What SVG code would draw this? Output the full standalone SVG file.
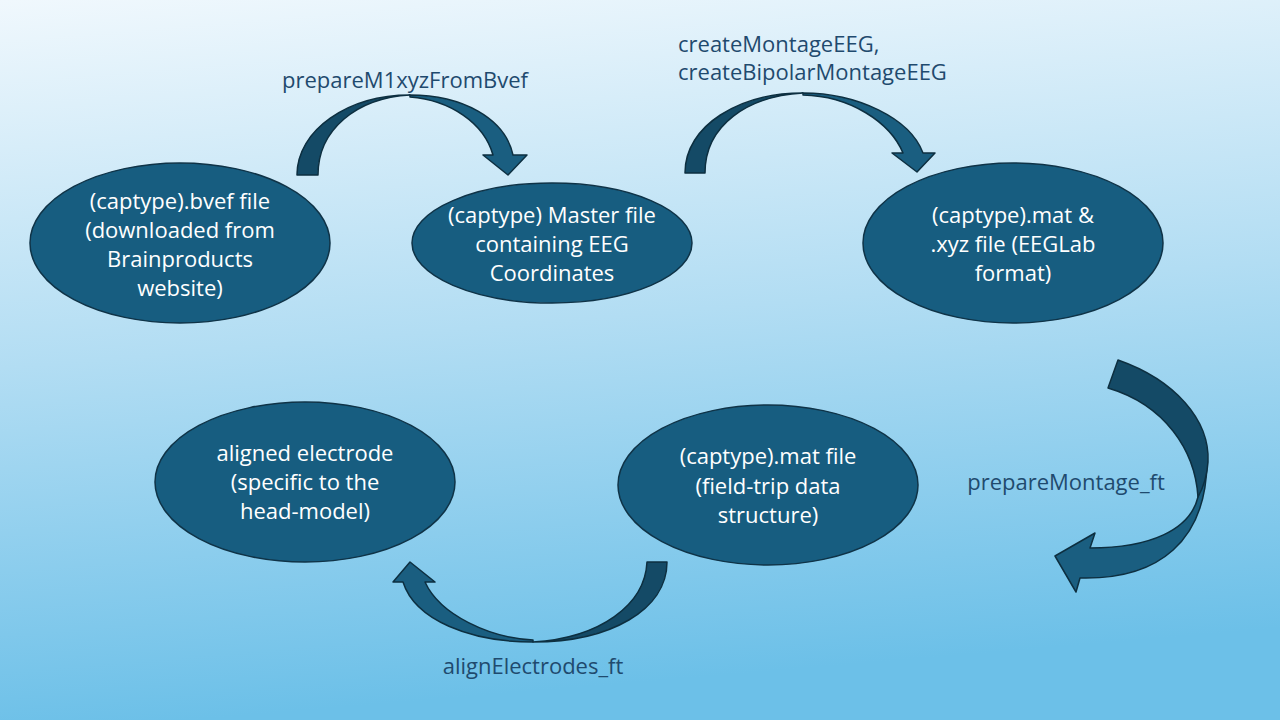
<svg xmlns="http://www.w3.org/2000/svg" width="1280" height="720" viewBox="0 0 1280 720">
<defs>
<linearGradient id="bg" x1="0" y1="0" x2="0.15" y2="1">
<stop offset="0" stop-color="#f0f8fd"/>
<stop offset="0.5" stop-color="#b2ddf3"/>
<stop offset="1" stop-color="#6cc0e8"/>
</linearGradient>
<style>
.node{fill:#175d80;stroke:#0f3347;stroke-width:1.5}
.nt{font-family:"Open Sans","Liberation Sans",sans-serif;font-size:22px;fill:#ffffff;text-anchor:middle}
.lbl{font-family:"Open Sans","Liberation Sans",sans-serif;font-size:22px;fill:#1f4a6e}
.arL{fill:#1a5e80;stroke:#0d2f40;stroke-width:1.5;stroke-linejoin:round}
.arD{fill:#144a66;stroke:#0d2f40;stroke-width:1.5;stroke-linejoin:round}
</style>
</defs>
<rect width="1280" height="720" fill="url(#bg)"/>

<g id="connectors">
<g id="arrow1">
<path class="arL" d="M410,95 C462,95 505,118 513,155 L527,155 L508,175 L483,155 L493,155 C484,123 450,100 410,97 Z"/>
<path class="arD" d="M297,175 C297,130 348,95 410,95 C356,98 318,130 318,175 Z"/>
</g>
<g id="arrow2">
<path class="arL" d="M803,93 C857,93 910,118 923,153 L935,153 L917,172 L892,153 L903,153 C890,122 850,96 803,95 Z"/>
<path class="arD" d="M685,173 C685,125 740,93 803,93 C748,96 705,125 705,173 Z"/>
</g>
<g id="arrow3">
<path class="arL" d="M1207,462 C1206,540 1160,580 1080,578 L1076,592 L1055,556 L1095,533 L1090,548 C1150,548 1190,530 1198,497 Z"/>
<path class="arD" d="M1118,360 C1175,380 1210,420 1208,462 C1207,478 1203,488 1198,497 C1195,450 1165,405 1108,388 Z"/>
</g>
<g id="arrow4">
<path class="arL" d="M533,642 C470,642 415,620 403,582 L393,582 L410,562 L435,582 L425,582 C440,615 490,638 533,640 Z"/>
<path class="arD" d="M667,562 C667,610 610,642 533,642 C600,638 645,605 647,562 Z"/>
</g>
</g>

<g id="node1">
<ellipse class="node" cx="180" cy="243" rx="150" ry="80"/>
<text class="nt" x="180" y="209">(captype).bvef file</text>
<text class="nt" x="180" y="238">(downloaded from</text>
<text class="nt" x="180" y="267">Brainproducts</text>
<text class="nt" x="180" y="296">website)</text>
</g>
<g id="node2">
<ellipse class="node" cx="552" cy="243" rx="140" ry="60"/>
<text class="nt" x="552" y="223">(captype) Master file</text>
<text class="nt" x="552" y="252">containing EEG</text>
<text class="nt" x="552" y="281">Coordinates</text>
</g>
<g id="node3">
<ellipse class="node" cx="1013" cy="243" rx="150" ry="80"/>
<text class="nt" x="1013" y="223">(captype).mat &amp;</text>
<text class="nt" x="1013" y="252">.xyz file (EEGLab</text>
<text class="nt" x="1013" y="281">format)</text>
</g>
<g id="node4">
<ellipse class="node" cx="305" cy="482" rx="150" ry="80"/>
<text class="nt" x="305" y="461">aligned electrode</text>
<text class="nt" x="305" y="490">(specific to the</text>
<text class="nt" x="305" y="519">head-model)</text>
</g>
<g id="node5">
<ellipse class="node" cx="768" cy="485" rx="150" ry="80"/>
<text class="nt" x="768" y="464">(captype).mat file</text>
<text class="nt" x="768" y="494">(field-trip data</text>
<text class="nt" x="768" y="523">structure)</text>
</g>

<g id="labels">
<text class="lbl" x="405" y="88" text-anchor="middle">prepareM1xyzFromBvef</text>
<text class="lbl" x="678" y="52">createMontageEEG,</text>
<text class="lbl" x="678" y="80">createBipolarMontageEEG</text>
<text class="lbl" x="1066" y="490" text-anchor="middle">prepareMontage_ft</text>
<text class="lbl" x="533" y="674" text-anchor="middle">alignElectrodes_ft</text>
</g>
</svg>
